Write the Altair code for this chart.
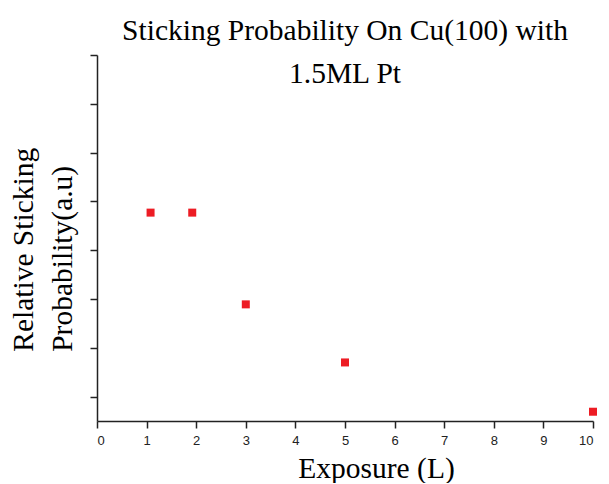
import altair as alt
import pandas as pd

exposure = [1.08, 1.92, 3.0, 5.0, 10.0]
sticking = [4.77, 4.77, 2.89, 1.70, 0.69]
x_ticks = [0, 1, 2, 3, 4, 5, 6, 7, 8, 9, 10]
y_ticks = [1, 2, 3, 4, 5, 6, 7, 8]

df = pd.DataFrame({"exposure": exposure, "sticking": sticking})

title = alt.TitleParams(
    text=["Sticking Probability On Cu(100) with", "1.5ML Pt"],
    font="Liberation Serif",
    fontSize=29.5,
    fontWeight="normal",
    color="black",
    lineHeight=43,
    anchor="middle",
    baseline="alphabetic",
    offset=0,
    dx=0,
    dy=58,
)

chart = alt.Chart(df, title=title).mark_square(
    size=64, color="#ed1c24", opacity=1, filled=True
).encode(
    x=alt.X(
        "exposure:Q",
        scale=alt.Scale(domain=[0, 10], nice=False, zero=False),
        axis=alt.Axis(
            values=x_ticks,
            title="Exposure (L)",
            titleFont="Liberation Serif",
            titleFontSize=29.5,
            titleFontWeight="normal",
            titleColor="black",
            titleAlign="center",
            titleBaseline="alphabetic",
            titleX=279,
            titleY=56.3,
            labelFont="Liberation Sans",
            labelFontSize=13,
            labelColor="#222222",
            labelPadding=6,
            tickSize=7,
            tickWidth=1.5,
            tickColor="#222222",
            domainColor="#222222",
            domainWidth=1.5,
            grid=False,
        ),
    ),
    y=alt.Y(
        "sticking:Q",
        scale=alt.Scale(domain=[0.5, 8], nice=False, zero=False),
        axis=alt.Axis(
            values=y_ticks,
            labels=False,
            title=["Relative Sticking", "Probability(a.u)"],
            titleFont="Liberation Serif",
            titleFontSize=29.5,
            titleFontWeight="normal",
            titleColor="black",
            titleAngle=270,
            titleAlign="left",
            titleBaseline="alphabetic",
            titleLineHeight=39.4,
            titleX=-64.7,
            titleY=296.3,
            tickSize=7,
            tickWidth=1.5,
            tickColor="#222222",
            domainColor="#222222",
            domainWidth=1.5,
            grid=False,
        ),
    ),
).properties(
    width=496,
    height=366,
    autosize=alt.AutoSizeParams(type="none"),
    padding={"left": 89, "top": 47, "right": 8, "bottom": 62},
    background="white",
).configure_view(stroke=None)

chart.save("out.html", embed_options={"renderer": "svg", "actions": False})
